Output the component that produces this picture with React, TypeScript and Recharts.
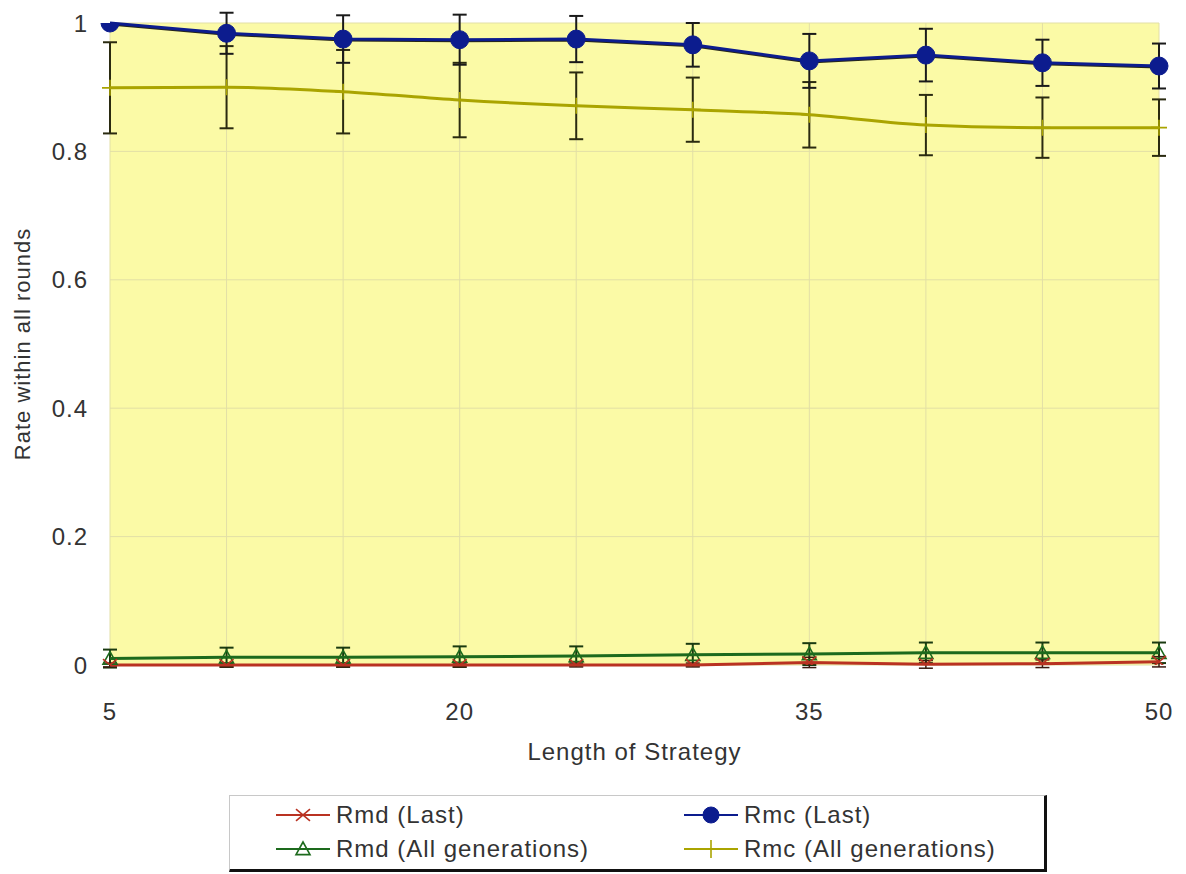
import React from 'react';
import { LineChart, Line, XAxis, YAxis, CartesianGrid, ErrorBar, Legend } from 'recharts';

const xValues = [5, 10, 15, 20, 25, 30, 35, 40, 45, 50];
const xTickLabels = [5, 20, 35, 50];
const yTicks = [0, 0.2, 0.4, 0.6, 0.8, 1];

const rmdLast = [0, 0, 0, 0, 0, 0, 0.004, 0.001, 0.002, 0.005];
const rmdLastErr = [0.003, 0.003, 0.003, 0.003, 0.003, 0.003, 0.008, 0.006, 0.006, 0.008];
const rmcLast = [1.0, 0.984, 0.975, 0.974, 0.975, 0.966, 0.941, 0.95, 0.938, 0.933];
const rmcLastErr = [0, 0.032, 0.037, 0.039, 0.036, 0.034, 0.042, 0.041, 0.036, 0.035];
const rmdAll = [0.01, 0.012, 0.012, 0.013, 0.014, 0.016, 0.017, 0.019, 0.019, 0.019];
const rmdAllErr = [0.014, 0.015, 0.015, 0.016, 0.015, 0.017, 0.017, 0.016, 0.016, 0.016];
const rmcAll = [0.899, 0.9, 0.893, 0.88, 0.871, 0.865, 0.857, 0.841, 0.837, 0.837];
const rmcAllErr = [0.071, 0.064, 0.065, 0.058, 0.052, 0.05, 0.051, 0.047, 0.047, 0.044];

const seriesNames = ['Rmd (Last)', 'Rmc (Last)', 'Rmd (All generations)', 'Rmc (All generations)'];

const RED = '#b93222';
const BLUE = '#0c1c8e';
const GREEN = '#1d6a1d';
const OLIVE = '#aaa400';
const BG = '#fbfaa6';
const GRID = '#e2dfa6';
const TEXT = '#333333';
const FONT = '"Liberation Sans", Arial, sans-serif';

const data = xValues.map((x, i) => ({
  x,
  rmdLast: rmdLast[i],
  rmdLastErr: rmdLastErr[i],
  rmcLast: rmcLast[i],
  rmcLastErr: rmcLastErr[i],
  rmdAll: rmdAll[i],
  rmdAllErr: rmdAllErr[i],
  rmcAll: rmcAll[i],
  rmcAllErr: rmcAllErr[i],
}));

const XMark = ({ cx, cy, s = 7 }: any) => (
  <g>
    <line x1={cx - s} y1={cy - s * 0.85} x2={cx + s} y2={cy + s * 0.85} stroke={RED} strokeWidth={1.6} />
    <line x1={cx - s} y1={cy + s * 0.85} x2={cx + s} y2={cy - s * 0.85} stroke={RED} strokeWidth={1.6} />
  </g>
);
const TriMark = ({ cx, cy, s = 7 }: any) => (
  <polygon
    points={`${cx},${cy - s} ${cx - s},${cy + s * 0.8} ${cx + s},${cy + s * 0.8}`}
    fill="none"
    stroke={GREEN}
    strokeWidth={1.6}
  />
);
const PlusMark = ({ cx, cy, s = 8 }: any) => (
  <g>
    <line x1={cx - s} y1={cy} x2={cx + s} y2={cy} stroke={OLIVE} strokeWidth={1.6} />
    <line x1={cx} y1={cy - s} x2={cx} y2={cy + s} stroke={OLIVE} strokeWidth={1.6} />
  </g>
);
const CircleMark = ({ cx, cy, r = 9 }: any) => <circle cx={cx} cy={cy} r={r} fill={BLUE} stroke={BLUE} />;

const dotFn = (Comp: any) => (props: any) => {
  const { cx, cy, index } = props;
  if (cx == null || cy == null) return <g key={`d-${index}`} />;
  return (
    <g key={`d-${index}`}>
      <Comp cx={cx} cy={cy} />
    </g>
  );
};

const legendMarks = [XMark, CircleMark, TriMark, PlusMark];
const legendColors = [RED, BLUE, GREEN, OLIVE];

const LegendBox = () => (
  <div
    style={{
      width: 818,
      height: 77,
      boxSizing: 'border-box',
      background: '#fff',
      borderTop: '1px solid #c8c8c8',
      borderLeft: '1px solid #c8c8c8',
      borderRight: '3px solid #111',
      borderBottom: '3px solid #111',
      position: 'relative',
      fontFamily: FONT,
      fontSize: 24,
      letterSpacing: 1,
      color: TEXT,
    }}
  >
    {seriesNames.map((name, i) => {
      const col = i % 2;
      const row = Math.floor(i / 2);
      const Mark = legendMarks[i];
      return (
        <div
          key={name}
          style={{
            position: 'absolute',
            left: col === 0 ? 46 : 454,
            top: row === 0 ? 4 : 38,
            height: 30,
            display: 'flex',
            alignItems: 'center',
            whiteSpace: 'nowrap',
          }}
        >
          <svg width={54} height={30} style={{ marginRight: 6 }}>
            <line x1={0} y1={15} x2={54} y2={15} stroke={legendColors[i]} strokeWidth={2} />
            <Mark cx={27} cy={15} r={8} s={i === 3 ? 9 : 7} />
          </svg>
          <span>{name}</span>
        </div>
      );
    })}
  </div>
);

export default function App() {
  return (
    <div style={{ position: 'absolute', left: 0, top: 0, width: 1186, height: 874, background: '#fff' }}>
      <style>{`
        .recharts-line, .recharts-line * { clip-path: none !important; }
        .blue-line .recharts-line-curve { filter: drop-shadow(0px 1.5px 0px rgba(0,0,0,0.85)); }
      `}</style>
      <LineChart
        width={1186}
        height={874}
        data={data}
        margin={{ top: 23, right: 27, left: 0, bottom: 108 }}
        style={{ fontFamily: FONT }}
      >
        <CartesianGrid stroke={GRID} strokeWidth={1} fill={BG} fillOpacity={1} />
        <XAxis
          dataKey="x"
          type="number"
          domain={[5, 50]}
          ticks={xValues}
          interval={0}
          tickFormatter={(v: number) => (xTickLabels.includes(v) ? String(v) : '')}
          axisLine={false}
          tickLine={false}
          tickSize={0}
          tickMargin={38}
          height={101}
          tick={{ fill: TEXT, fontSize: 24, letterSpacing: 1 }}
          label={{
            value: 'Length of Strategy',
            position: 'insideTop',
            offset: 78,
            fill: TEXT,
            fontSize: 24,
            letterSpacing: 1,
          }}
        />
        <YAxis
          type="number"
          domain={[0, 1]}
          allowDataOverflow
          ticks={yTicks}
          interval={0}
          axisLine={false}
          tickLine={false}
          tickSize={0}
          tickMargin={22}
          width={110}
          tick={{ fill: TEXT, fontSize: 24, letterSpacing: 1 }}
          label={{
            value: 'Rate within all rounds',
            angle: -90,
            position: 'insideLeft',
            offset: 22,
            fill: TEXT,
            fontSize: 22,
            letterSpacing: 1,
            style: { textAnchor: 'middle' },
          }}
        />
        <Legend
          layout="vertical"
          align="center"
          verticalAlign="middle"
          content={() => <LegendBox />}
          wrapperStyle={{ left: 229, top: 795, width: 818, height: 77 }}
        />
        <Line
          dataKey="rmcAll"
          name={seriesNames[3]}
          type="monotone"
          stroke={OLIVE}
          strokeWidth={3}
          dot={dotFn(PlusMark)}
          activeDot={false}
          isAnimationActive={false}
        >
          <ErrorBar dataKey="rmcAllErr" width={7} stroke="#2a2a10" strokeWidth={2} direction="y" />
        </Line>
        <Line
          dataKey="rmdAll"
          name={seriesNames[2]}
          type="linear"
          stroke={GREEN}
          strokeWidth={3}
          dot={dotFn(TriMark)}
          activeDot={false}
          isAnimationActive={false}
        >
          <ErrorBar dataKey="rmdAllErr" width={7} stroke="#1a3a10" strokeWidth={2} direction="y" />
        </Line>
        <Line
          dataKey="rmdLast"
          name={seriesNames[0]}
          type="linear"
          stroke={RED}
          strokeWidth={3}
          dot={dotFn(XMark)}
          activeDot={false}
          isAnimationActive={false}
        >
          <ErrorBar dataKey="rmdLastErr" width={7} stroke="#3a1a10" strokeWidth={1.5} direction="y" />
        </Line>
        <Line
          className="blue-line"
          dataKey="rmcLast"
          name={seriesNames[1]}
          type="linear"
          stroke={BLUE}
          strokeWidth={3}
          dot={dotFn(CircleMark)}
          activeDot={false}
          isAnimationActive={false}
        >
          <ErrorBar dataKey="rmcLastErr" width={7} stroke="#1a1a1a" strokeWidth={2} direction="y" />
        </Line>
      </LineChart>
    </div>
  );
}
